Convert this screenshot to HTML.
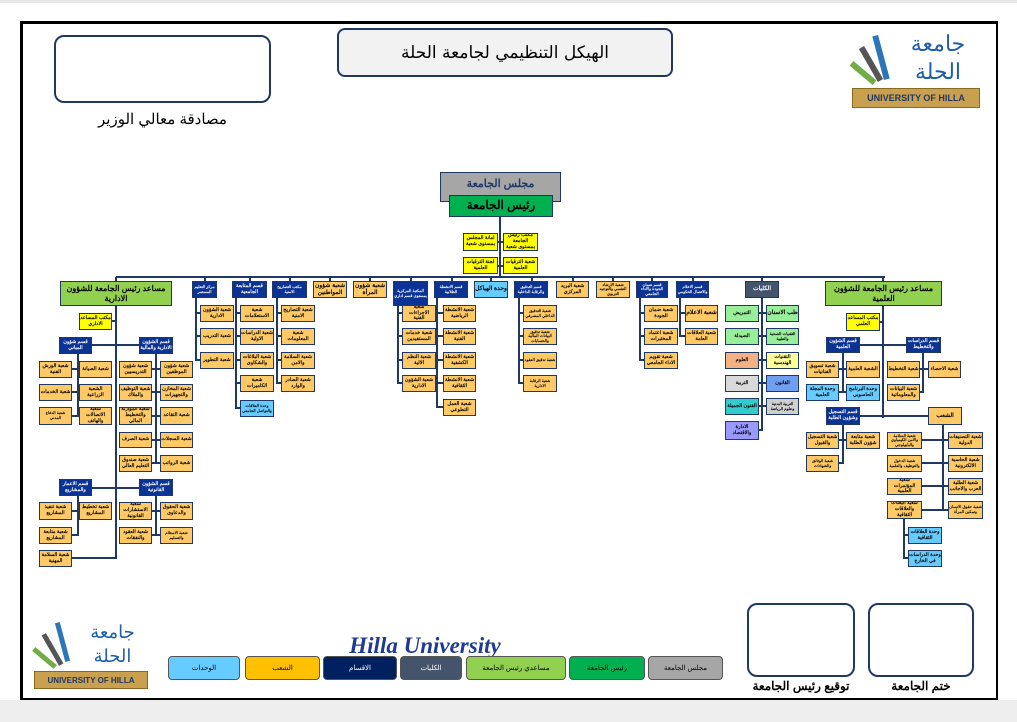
<!DOCTYPE html>
<html><head><meta charset="utf-8">
<style>
*{margin:0;padding:0;box-sizing:border-box}
body{width:1017px;height:722px;position:relative;background:#fff;overflow:hidden;font-family:"Liberation Sans","Noto Sans CJK SC",sans-serif}
div{position:absolute}
.b{border:1.5px solid #1f3864;display:flex;align-items:center;justify-content:center;text-align:center;font-size:5px;line-height:1.15;font-weight:bold;direction:rtl;color:#000;overflow:hidden}
.o{background:#ffc966}
.n{background:#0b3394;color:#fff}
.lb{background:#66ccff}
.y{background:#ffff00}
.h{height:2px;background:#1f3864}
.v{width:2px;background:#1f3864}
.lg{border:1.5px solid #555;border-radius:4px;display:flex;align-items:center;justify-content:center;font-size:7px;direction:rtl}
</style></head><body>
<div style="left:0;top:0;width:1017px;height:3px;background:#e8e8e8"></div>
<div style="left:0;top:700px;width:1017px;height:22px;background:#eeeeee"></div>
<div style="left:20px;top:21px;width:978px;height:679px;border:2px solid #000;border-top-width:3px;border-left-width:3px"></div>

<!-- header -->
<div style="left:337px;top:28px;width:336px;height:49px;border:2px solid #1f3864;border-radius:8px;background:#f2f2f2;display:flex;align-items:center;justify-content:center;font-family:'DejaVu Serif',serif;font-size:17px;direction:rtl">الهيكل التنظيمي لجامعة الحلة</div>
<div style="left:54px;top:35px;width:217px;height:68px;border:2px solid #1f3864;border-radius:10px"></div>
<div style="left:54px;top:110px;width:217px;text-align:center;font-size:15px;direction:rtl">مصادقة معالي الوزير</div>
<!-- logo top -->
<div style="left:858px;top:30px;width:60px;height:60px;">
<div style="left:20px;top:5px;width:6px;height:45px;background:#2e75b6;transform:rotate(-15deg)"></div>
<div style="left:10px;top:15px;width:6px;height:38px;background:#555;transform:rotate(-30deg)"></div>
<div style="left:2px;top:28px;width:6px;height:30px;background:#70ad47;transform:rotate(-50deg)"></div>
</div>
<div style="left:908px;top:30px;width:60px;height:60px;font-size:22px;color:#1f5fa8;text-align:center;line-height:28px;direction:rtl">جامعة الحلة</div>
<div style="left:852px;top:88px;width:128px;height:20px;background:#c8a050;border:1px solid #8a6a20;display:flex;align-items:center;justify-content:center;font-size:9px;font-weight:bold;color:#1f3864">UNIVERSITY OF HILLA</div>

<!-- top -->
<div class="b" style="left:440px;top:172px;width:121px;height:30px;background:#a6a6a6;color:#1f3864;font-size:11px;align-items:flex-start;padding-top:5px">مجلس الجامعة</div>
<div class="b" style="left:449px;top:195px;width:104px;height:22px;background:#00b050;font-size:12px">رئيس الجامعة</div>
<div class="v" style="left:499px;top:217px;height:61px"></div>
<div class="h" style="left:497px;top:241px;width:8px"></div>
<div class="h" style="left:497px;top:265px;width:8px"></div>
<div class="b y" style="left:463px;top:233px;width:35px;height:18px">امانة المجلس بمستوى شعبة</div>
<div class="b y" style="left:503px;top:233px;width:35px;height:18px">مكتب رئيس الجامعة بمستوى شعبة</div>
<div class="b y" style="left:463px;top:257px;width:35px;height:17px">لجنة الترقيات العلمية</div>
<div class="b y" style="left:503px;top:257px;width:35px;height:17px">شعبة الترقيات العلمية</div>
<div class="h" style="left:116px;top:276px;width:769px"></div>

<!-- top row -->
<div class="b n" style="left:192px;top:281px;width:25px;height:17px;font-size:4px">مركز التعليم المستمر</div>
<div class="b n" style="left:232px;top:281px;width:35px;height:17px">قسم المتابعة الجامعية</div>
<div class="b n" style="left:272px;top:281px;width:35px;height:17px;font-size:4px">مكتب التصاريح الامنية</div>
<div class="b o" style="left:313px;top:281px;width:34px;height:17px;font-size:6px">شعبة شؤون المواطنين</div>
<div class="b o" style="left:353px;top:281px;width:34px;height:17px;font-size:6px">شعبة شؤون المرأة</div>
<div class="b n" style="left:393px;top:281px;width:35px;height:25px;font-size:4px">المكتبة المركزية بمستوى قسم اداري</div>
<div class="b n" style="left:434px;top:281px;width:34px;height:17px;font-size:4px">قسم الانشطة الطلابية</div>
<div class="b lb" style="left:474px;top:281px;width:34px;height:17px;font-size:6px">وحدة الهياكل</div>
<div class="b n" style="left:514px;top:281px;width:34px;height:17px;font-size:4px">قسم التدقيق والرقابة الداخلية</div>
<div class="b o" style="left:556px;top:281px;width:33px;height:17px">شعبة البريد المركزي</div>
<div class="b o" style="left:596px;top:281px;width:34px;height:17px;font-size:4px">شعبة الارشاد النفسي والتوجيه التربوي</div>
<div class="b n" style="left:636px;top:281px;width:32px;height:17px;font-size:4px">قسم ضمان الجودة والاداء الجامعي</div>
<div class="b n" style="left:676px;top:281px;width:33px;height:17px;font-size:4px">قسم الاعلام والاتصال الحكومي</div>
<div class="b" style="left:745px;top:281px;width:34px;height:17px;background:#44546a;color:#fff;font-size:6px">الكليات</div>
<div class="b" style="left:60px;top:281px;width:112px;height:25px;background:#92d050;font-size:8px">مساعد رئيس الجامعة للشؤون الادارية</div>
<div class="b" style="left:825px;top:281px;width:117px;height:25px;background:#92d050;font-size:8px">مساعد رئيس الجامعة للشؤون العلمية</div>
<!-- drops -->
<div class="v" style="left:204px;top:277px;height:4px"></div>
<div class="v" style="left:249px;top:277px;height:4px"></div>
<div class="v" style="left:289px;top:277px;height:4px"></div>
<div class="v" style="left:329px;top:277px;height:4px"></div>
<div class="v" style="left:369px;top:277px;height:4px"></div>
<div class="v" style="left:410px;top:277px;height:4px"></div>
<div class="v" style="left:451px;top:277px;height:4px"></div>
<div class="v" style="left:490px;top:277px;height:4px"></div>
<div class="v" style="left:531px;top:277px;height:4px"></div>
<div class="v" style="left:572px;top:277px;height:4px"></div>
<div class="v" style="left:612px;top:277px;height:4px"></div>
<div class="v" style="left:651px;top:277px;height:4px"></div>
<div class="v" style="left:692px;top:277px;height:4px"></div>
<div class="v" style="left:761px;top:277px;height:4px"></div>
<div class="v" style="left:115px;top:277px;height:4px"></div>
<div class="v" style="left:882px;top:277px;height:4px"></div>

<!-- box1 children -->
<div class="v" style="left:195px;top:298px;height:63px"></div>
<div class="h" style="left:195px;top:312px;width:5px"></div><div class="h" style="left:195px;top:335px;width:5px"></div><div class="h" style="left:195px;top:359px;width:5px"></div>
<div class="b o" style="left:200px;top:305px;width:34px;height:17px">شعبة الشؤون الادارية</div>
<div class="b o" style="left:200px;top:328px;width:34px;height:17px">شعبة التدريب</div>
<div class="b o" style="left:200px;top:352px;width:34px;height:17px">شعبة التطوير</div>
<!-- box2 -->
<div class="v" style="left:235px;top:298px;height:111px"></div>
<div class="h" style="left:235px;top:312px;width:5px"></div><div class="h" style="left:235px;top:335px;width:5px"></div><div class="h" style="left:235px;top:359px;width:5px"></div><div class="h" style="left:235px;top:382px;width:5px"></div><div class="h" style="left:235px;top:407px;width:5px"></div>
<div class="b o" style="left:240px;top:305px;width:34px;height:17px">شعبة الاستعلامات</div>
<div class="b o" style="left:240px;top:328px;width:34px;height:17px">شعبة الدراسات الاولية</div>
<div class="b o" style="left:240px;top:352px;width:34px;height:17px">شعبة البلاغات والشكاوى</div>
<div class="b o" style="left:240px;top:375px;width:34px;height:17px">شعبة الكاميرات</div>
<div class="b lb" style="left:240px;top:400px;width:34px;height:17px;font-size:4px">وحدة العلاقات والتواصل الجامعي</div>
<!-- box3 -->
<div class="v" style="left:276px;top:298px;height:86px"></div>
<div class="h" style="left:276px;top:312px;width:5px"></div><div class="h" style="left:276px;top:335px;width:5px"></div><div class="h" style="left:276px;top:359px;width:5px"></div><div class="h" style="left:276px;top:382px;width:5px"></div>
<div class="b o" style="left:281px;top:305px;width:34px;height:17px">شعبة التصاريح الامنية</div>
<div class="b o" style="left:281px;top:328px;width:34px;height:17px">شعبة المعلومات</div>
<div class="b o" style="left:281px;top:352px;width:34px;height:17px">شعبة السلامة والامن</div>
<div class="b o" style="left:281px;top:375px;width:34px;height:17px">شعبة الصادر والوارد</div>
<!-- box6 -->
<div class="v" style="left:397px;top:306px;height:78px"></div>
<div class="h" style="left:397px;top:312px;width:5px"></div><div class="h" style="left:397px;top:335px;width:5px"></div><div class="h" style="left:397px;top:359px;width:5px"></div><div class="h" style="left:397px;top:382px;width:5px"></div>
<div class="b o" style="left:402px;top:305px;width:34px;height:17px">شعبة الاجراءات الفنية</div>
<div class="b o" style="left:402px;top:328px;width:34px;height:17px">شعبة خدمات المستفيدين</div>
<div class="b o" style="left:402px;top:352px;width:34px;height:17px">شعبة النظم الالية</div>
<div class="b o" style="left:402px;top:375px;width:34px;height:17px">شعبة الشؤون الادارية</div>
<!-- box7 -->
<div class="v" style="left:436px;top:298px;height:110px"></div>
<div class="h" style="left:436px;top:312px;width:7px"></div><div class="h" style="left:436px;top:335px;width:7px"></div><div class="h" style="left:436px;top:359px;width:7px"></div><div class="h" style="left:436px;top:382px;width:7px"></div><div class="h" style="left:436px;top:406px;width:7px"></div>
<div class="b o" style="left:443px;top:305px;width:33px;height:17px">شعبة الانشطة الرياضية</div>
<div class="b o" style="left:443px;top:328px;width:33px;height:17px">شعبة الانشطة الفنية</div>
<div class="b o" style="left:443px;top:352px;width:33px;height:17px">شعبة الانشطة الكشفية</div>
<div class="b o" style="left:443px;top:375px;width:33px;height:17px">شعبة الانشطة الثقافية</div>
<div class="b o" style="left:443px;top:399px;width:33px;height:17px">شعبة العمل التطوعي</div>
<!-- box9 -->
<div class="v" style="left:518px;top:298px;height:86px"></div>
<div class="h" style="left:518px;top:312px;width:5px"></div><div class="h" style="left:518px;top:335px;width:5px"></div><div class="h" style="left:518px;top:359px;width:5px"></div><div class="h" style="left:518px;top:382px;width:5px"></div>
<div class="b o" style="left:523px;top:305px;width:34px;height:17px;font-size:4px">شعبة التدقيق الداخلي المصرفي</div>
<div class="b o" style="left:523px;top:328px;width:34px;height:17px;font-size:4px">شعبة تدقيق البيانات المالية والحسابات</div>
<div class="b o" style="left:523px;top:352px;width:34px;height:17px;font-size:4px">شعبة تدقيق العقود</div>
<div class="b o" style="left:523px;top:375px;width:34px;height:17px;font-size:4px">شعبة الرقابة الادارية</div>
<!-- box12 -->
<div class="v" style="left:639px;top:298px;height:63px"></div>
<div class="h" style="left:639px;top:312px;width:5px"></div><div class="h" style="left:639px;top:335px;width:5px"></div><div class="h" style="left:639px;top:359px;width:5px"></div>
<div class="b o" style="left:644px;top:305px;width:34px;height:17px">شعبة ضمان الجودة</div>
<div class="b o" style="left:644px;top:328px;width:34px;height:17px">شعبة اعتماد المختبرات</div>
<div class="b o" style="left:644px;top:352px;width:34px;height:17px">شعبة تقويم الاداء الجامعي</div>
<!-- box13 -->
<div class="v" style="left:679px;top:298px;height:39px"></div>
<div class="h" style="left:679px;top:312px;width:6px"></div><div class="h" style="left:679px;top:335px;width:6px"></div>
<div class="b o" style="left:685px;top:305px;width:33px;height:17px;font-size:6px">شعبة الاعلام</div>
<div class="b o" style="left:685px;top:328px;width:33px;height:17px">شعبة العلاقات العامة</div>
<!-- colleges -->
<div class="v" style="left:761px;top:298px;height:133px"></div>
<div class="h" style="left:759px;top:312px;width:7px"></div><div class="h" style="left:759px;top:335px;width:7px"></div><div class="h" style="left:759px;top:359px;width:7px"></div><div class="h" style="left:759px;top:382px;width:7px"></div><div class="h" style="left:759px;top:405px;width:7px"></div><div class="h" style="left:759px;top:429px;width:3px"></div>
<div class="b" style="left:725px;top:305px;width:34px;height:17px;background:#99ee99">التمريض</div>
<div class="b" style="left:766px;top:305px;width:33px;height:17px;background:#99ee99;font-size:6px">طب الاسنان</div>
<div class="b" style="left:725px;top:328px;width:34px;height:17px;background:#99ee99">الصيدلة</div>
<div class="b" style="left:766px;top:328px;width:33px;height:17px;background:#99ee99;font-size:4px">التقنيات الصحية والطبية</div>
<div class="b" style="left:725px;top:352px;width:34px;height:17px;background:#f4b183">العلوم</div>
<div class="b" style="left:766px;top:352px;width:33px;height:17px;background:#ffff99">التقنيات الهندسية</div>
<div class="b" style="left:725px;top:375px;width:34px;height:17px;background:#d9d9d9">التربية</div>
<div class="b" style="left:766px;top:375px;width:33px;height:17px;background:#6f9ff0">القانون</div>
<div class="b" style="left:725px;top:398px;width:34px;height:17px;background:#33cccc">الفنون الجميلة</div>
<div class="b" style="left:766px;top:398px;width:33px;height:17px;background:#d0d0d0;font-size:4px">التربية البدنية وعلوم الرياضة</div>
<div class="b" style="left:725px;top:421px;width:34px;height:19px;background:#9999ff">الادارة والاقتصاد</div>

<!-- left assistant subtree -->
<div class="v" style="left:115px;top:306px;height:253px"></div>
<div class="h" style="left:112px;top:320px;width:4px"></div>
<div class="h" style="left:92px;top:344px;width:47px"></div>
<div class="h" style="left:92px;top:487px;width:47px"></div>
<div class="h" style="left:72px;top:557px;width:44px"></div>
<div class="b y" style="left:79px;top:313px;width:33px;height:17px">مكتب المساعد الاداري</div>
<div class="b n" style="left:59px;top:337px;width:33px;height:17px">قسم شؤون المباني</div>
<div class="b n" style="left:139px;top:337px;width:34px;height:17px">قسم الشؤون الادارية والمالية</div>
<div class="v" style="left:77px;top:354px;height:63px"></div>
<div class="h" style="left:72px;top:368px;width:7px"></div><div class="h" style="left:72px;top:391px;width:7px"></div><div class="h" style="left:72px;top:415px;width:7px"></div>
<div class="b o" style="left:39px;top:361px;width:33px;height:17px">شعبة الورش الفنية</div>
<div class="b o" style="left:79px;top:361px;width:33px;height:17px">شعبة الصيانة</div>
<div class="b o" style="left:39px;top:384px;width:33px;height:17px">شعبة الخدمات</div>
<div class="b o" style="left:79px;top:384px;width:33px;height:17px">الشعبة الزراعية</div>
<div class="b o" style="left:39px;top:407px;width:33px;height:18px;font-size:4px">شعبة الدفاع المدني</div>
<div class="b o" style="left:79px;top:407px;width:33px;height:18px">شعبة الاتصالات والهاتف</div>
<div class="v" style="left:155px;top:354px;height:110px"></div>
<div class="h" style="left:152px;top:368px;width:8px"></div><div class="h" style="left:152px;top:391px;width:8px"></div><div class="h" style="left:152px;top:415px;width:8px"></div><div class="h" style="left:152px;top:439px;width:8px"></div><div class="h" style="left:152px;top:462px;width:8px"></div>
<div class="b o" style="left:119px;top:361px;width:33px;height:17px">شعبة شؤون التدريسيين</div>
<div class="b o" style="left:160px;top:361px;width:33px;height:17px">شعبة شؤون الموظفين</div>
<div class="b o" style="left:119px;top:384px;width:33px;height:17px">شعبة التوظيف والملاك</div>
<div class="b o" style="left:160px;top:384px;width:33px;height:17px">شعبة المخازن والتجهيزات</div>
<div class="b o" style="left:119px;top:407px;width:33px;height:18px">شعبة الموازنة والتخطيط المالي</div>
<div class="b o" style="left:160px;top:407px;width:33px;height:18px">شعبة التقاعد</div>
<div class="b o" style="left:119px;top:432px;width:33px;height:16px">شعبة الصرف</div>
<div class="b o" style="left:160px;top:432px;width:33px;height:16px">شعبة السجلات</div>
<div class="b o" style="left:119px;top:455px;width:33px;height:17px">شعبة صندوق التعليم العالي</div>
<div class="b o" style="left:160px;top:455px;width:33px;height:17px">شعبة الرواتب</div>
<div class="b n" style="left:59px;top:479px;width:33px;height:17px">قسم الاعمار والمشاريع</div>
<div class="b n" style="left:139px;top:479px;width:34px;height:17px">قسم الشؤون القانونية</div>
<div class="v" style="left:77px;top:496px;height:40px"></div>
<div class="h" style="left:72px;top:510px;width:7px"></div><div class="h" style="left:72px;top:534px;width:6px"></div>
<div class="b o" style="left:39px;top:502px;width:33px;height:18px">شعبة تنفيذ المشاريع</div>
<div class="b o" style="left:79px;top:502px;width:33px;height:18px">شعبة تخطيط المشاريع</div>
<div class="b o" style="left:39px;top:527px;width:33px;height:17px">شعبة متابعة المشاريع</div>
<div class="b o" style="left:39px;top:550px;width:33px;height:17px">شعبة السلامة المهنية</div>
<div class="v" style="left:155px;top:496px;height:40px"></div>
<div class="h" style="left:152px;top:510px;width:8px"></div><div class="h" style="left:152px;top:534px;width:8px"></div>
<div class="b o" style="left:119px;top:502px;width:33px;height:18px">شعبة الاستشارات القانونية</div>
<div class="b o" style="left:160px;top:502px;width:33px;height:18px">شعبة الحقوق والدعاوى</div>
<div class="b o" style="left:119px;top:527px;width:33px;height:17px">شعبة العقود والنفقات</div>
<div class="b o" style="left:160px;top:527px;width:33px;height:17px;font-size:4px">شعبة الاستلام والتسليم</div>

<!-- right assistant subtree -->
<div class="v" style="left:882px;top:306px;height:112px"></div>
<div class="h" style="left:880px;top:321px;width:3px"></div>
<div class="h" style="left:860px;top:344px;width:46px"></div>
<div class="h" style="left:860px;top:415px;width:68px"></div>
<div class="b y" style="left:846px;top:313px;width:34px;height:18px">مكتب المساعد العلمي</div>
<div class="b n" style="left:826px;top:337px;width:34px;height:16px">قسم الشؤون العلمية</div>
<div class="b n" style="left:906px;top:337px;width:35px;height:16px">قسم الدراسات والتخطيط</div>
<div class="v" style="left:842px;top:353px;height:40px"></div>
<div class="h" style="left:839px;top:368px;width:7px"></div><div class="h" style="left:839px;top:391px;width:7px"></div>
<div class="b o" style="left:806px;top:361px;width:33px;height:17px">شعبة تسويق الفنانيات</div>
<div class="b o" style="left:846px;top:361px;width:34px;height:17px">الشعبة العلمية</div>
<div class="b lb" style="left:806px;top:384px;width:33px;height:17px">وحدة المجلة العلمية</div>
<div class="b lb" style="left:846px;top:384px;width:34px;height:17px">وحدة البرنامج الحاسوبي</div>
<div class="v" style="left:922px;top:353px;height:40px"></div>
<div class="h" style="left:920px;top:368px;width:8px"></div><div class="h" style="left:920px;top:391px;width:3px"></div>
<div class="b o" style="left:887px;top:361px;width:33px;height:17px">شعبة التخطيط</div>
<div class="b o" style="left:928px;top:361px;width:33px;height:17px">شعبة الاحصاء</div>
<div class="b o" style="left:887px;top:384px;width:33px;height:17px">شعبة البيانات والمعلوماتية</div>
<div class="b n" style="left:826px;top:407px;width:34px;height:18px">قسم التسجيل وشؤون الطلبة</div>
<div class="b o" style="left:928px;top:407px;width:34px;height:18px;font-size:6px">الشعب</div>
<div class="v" style="left:842px;top:425px;height:39px"></div>
<div class="h" style="left:839px;top:439px;width:7px"></div><div class="h" style="left:839px;top:462px;width:4px"></div>
<div class="b o" style="left:806px;top:432px;width:33px;height:17px">شعبة التسجيل والقبول</div>
<div class="b o" style="left:846px;top:432px;width:34px;height:17px">شعبة متابعة شؤون الطلبة</div>
<div class="b o" style="left:806px;top:455px;width:33px;height:17px;font-size:4px">شعبة الوثائق والشهادات</div>
<div class="v" style="left:942px;top:425px;height:86px"></div>
<div class="h" style="left:922px;top:439px;width:26px"></div><div class="h" style="left:922px;top:462px;width:26px"></div><div class="h" style="left:922px;top:485px;width:26px"></div><div class="h" style="left:922px;top:509px;width:26px"></div>
<div class="b o" style="left:887px;top:432px;width:35px;height:17px;font-size:4px">شعبة السلامة والامن الكيمياوي والبايولوجي</div>
<div class="b o" style="left:948px;top:432px;width:35px;height:17px">شعبة التصنيفات الدولية</div>
<div class="b o" style="left:887px;top:455px;width:35px;height:17px;font-size:4px">شعبة الدخول والتوظيف والعلمية</div>
<div class="b o" style="left:948px;top:455px;width:35px;height:17px">شعبة الحاسبة الالكترونية</div>
<div class="b o" style="left:887px;top:478px;width:35px;height:17px">شعبة المؤتمرات العلمية</div>
<div class="b o" style="left:948px;top:478px;width:35px;height:17px">شعبة الطلبة العرب والاجانب</div>
<div class="b o" style="left:887px;top:501px;width:35px;height:18px">شعبة البعثات والعلاقات الثقافية</div>
<div class="b o" style="left:948px;top:501px;width:35px;height:18px;font-size:4px">شعبة حقوق الانسان وتمكين المرأة</div>
<div class="v" style="left:903px;top:519px;height:40px"></div>
<div class="h" style="left:903px;top:534px;width:5px"></div><div class="h" style="left:903px;top:557px;width:5px"></div>
<div class="b lb" style="left:908px;top:527px;width:34px;height:17px">وحدة العلاقات الثقافية</div>
<div class="b lb" style="left:908px;top:550px;width:34px;height:17px">وحدة الدراسات في الخارج</div>

<!-- footer -->
<div style="left:40px;top:620px;width:50px;height:50px">
<div style="left:20px;top:2px;width:5px;height:40px;background:#2e75b6;transform:rotate(-15deg)"></div>
<div style="left:10px;top:12px;width:5px;height:35px;background:#555;transform:rotate(-30deg)"></div>
<div style="left:2px;top:24px;width:5px;height:28px;background:#70ad47;transform:rotate(-50deg)"></div>
</div>
<div style="left:85px;top:620px;width:55px;height:50px;font-size:18px;color:#1f5fa8;text-align:center;line-height:24px;direction:rtl">جامعة الحلة</div>
<div style="left:34px;top:671px;width:114px;height:18px;background:#c8a050;border:1px solid #8a6a20;display:flex;align-items:center;justify-content:center;font-size:8px;font-weight:bold;color:#1f3864">UNIVERSITY OF HILLA</div>
<div style="left:345px;top:633px;width:160px;height:26px;font-family:'Liberation Serif',serif;font-style:italic;font-weight:bold;font-size:23px;color:#1f3a93;text-align:center">Hilla University</div>
<div class="lg" style="left:168px;top:656px;width:72px;height:24px;background:#66ccff">الوحدات</div>
<div class="lg" style="left:245px;top:656px;width:75px;height:24px;background:#ffc000">الشعب</div>
<div class="lg" style="left:323px;top:656px;width:74px;height:24px;background:#002060;color:#fff">الاقسام</div>
<div class="lg" style="left:400px;top:656px;width:62px;height:24px;background:#44546a;color:#fff">الكليات</div>
<div class="lg" style="left:466px;top:656px;width:100px;height:24px;background:#92d050">مساعدي رئيس الجامعة</div>
<div class="lg" style="left:569px;top:656px;width:76px;height:24px;background:#00b050">رئيس الجامعة</div>
<div class="lg" style="left:648px;top:656px;width:75px;height:24px;background:#a6a6a6">مجلس الجامعة</div>
<div style="left:747px;top:603px;width:108px;height:74px;border:2px solid #1f3864;border-radius:10px"></div>
<div style="left:868px;top:603px;width:106px;height:74px;border:2px solid #1f3864;border-radius:10px"></div>
<div style="left:747px;top:679px;width:108px;text-align:center;font-size:12px;font-weight:bold;direction:rtl">توقيع رئيس الجامعة</div>
<div style="left:868px;top:679px;width:106px;text-align:center;font-size:12px;font-weight:bold;direction:rtl">ختم الجامعة</div>
</body></html>
